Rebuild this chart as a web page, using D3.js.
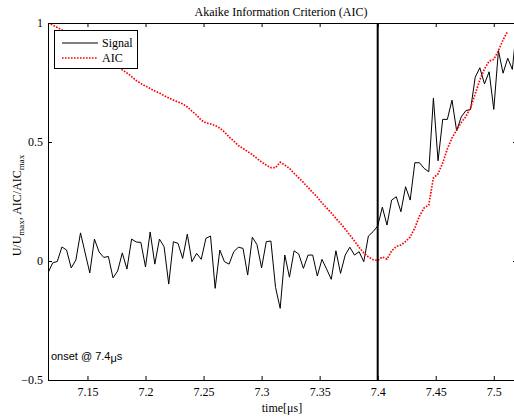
<!DOCTYPE html>
<html>
<head>
<meta charset="utf-8">
<script src="https://cdn.jsdelivr.net/npm/d3@7"></script>
<style>
  body { margin: 0; background: #fff; }
  svg { display: block; }
  .serif { font-family: "Liberation Serif", "Times New Roman", serif; }
</style>
</head>
<body>
<div id="chart"></div>
<script>
// sampling of the trace (4 ns steps from 7.116 us)
var t0 = 7.116, dt = 0.004;

// normalised signal U/Umax, one value per sample
var signal = [
  -0.050, -0.008, -0.002, 0.059, 0.046, -0.029, 0.004, 0.118, 0.034, -0.050,
  0.092, 0.038, 0.015, 0.019, -0.071, -0.042, 0.034, -0.034, 0.092, 0.080,
  0.078, -0.025, 0.122, -0.013, 0.092, 0.060, -0.097, 0.081, 0.074, 0.011,
  0.113, -0.003, 0.032, 0.007, 0.095, 0.105, -0.115, 0.046, -0.003, -0.013,
  0.039, 0.058, 0.053, -0.059, 0.100, 0.069, -0.029, 0.081, 0.084, -0.111,
  -0.199, 0.025, -0.068, 0.043, 0.029, -0.031, 0.025, 0.025, -0.063, 0.007,
  -0.034, -0.077, 0.043, -0.052, 0.025, 0.058, 0.025, 0.039, -0.003, 0.105,
  0.123, 0.147, 0.226, 0.151, 0.256, 0.270, 0.207, 0.312, 0.256, 0.413,
  0.413, 0.389, 0.375, 0.684, 0.421, 0.595, 0.595, 0.676, 0.547, 0.606,
  0.632, 0.637, 0.772, 0.812, 0.744, 0.795, 0.637, 0.884, 0.789, 0.852,
  0.805, 1.000
];

// normalised AIC/AICmax
var aic = [
  1.000, 0.992, 0.981, 0.971, 0.958, 0.945, 0.933, 0.920, 0.908, 0.893,
  0.878, 0.866, 0.853, 0.840, 0.828, 0.815, 0.803, 0.790, 0.775, 0.758,
  0.746, 0.735, 0.725, 0.714, 0.706, 0.695, 0.685, 0.676, 0.668, 0.660,
  0.647, 0.630, 0.613, 0.592, 0.580, 0.576, 0.569, 0.559, 0.542, 0.521,
  0.504, 0.485, 0.473, 0.460, 0.447, 0.431, 0.416, 0.403, 0.392, 0.392,
  0.415, 0.403, 0.389, 0.368, 0.349, 0.330, 0.309, 0.288, 0.268, 0.244,
  0.223, 0.202, 0.179, 0.158, 0.134, 0.109, 0.084, 0.057, 0.034, 0.017,
  0.006, 0.002, 0.017, 0.008, 0.042, 0.061, 0.067, 0.082, 0.101, 0.139,
  0.189, 0.223, 0.235, 0.349, 0.366, 0.412, 0.471, 0.517, 0.550, 0.582,
  0.607, 0.645, 0.702, 0.761, 0.807, 0.840, 0.847, 0.884, 0.929, 0.966
];

var onset = 7.4;
var xTicks = [7.15, 7.2, 7.25, 7.3, 7.35, 7.4, 7.45, 7.5];
var yTicks = [-0.5, 0, 0.5, 1];
var legendNames = ["Signal", "AIC"];

var W = 514, H = 418;
var m = { left: 48, top: 23, right: 517, bottom: 380 };

var x = d3.scaleLinear().domain([7.116, 7.52]).range([m.left, m.right]);
var y = d3.scaleLinear().domain([-0.5, 1]).range([m.bottom, m.top]);

var svg = d3.select("#chart").append("svg")
    .attr("width", W)
    .attr("height", H);

svg.append("defs").append("clipPath")
    .attr("id", "clip")
    .append("rect")
    .attr("x", m.left).attr("y", m.top)
    .attr("width", m.right - m.left).attr("height", m.bottom - m.top);

var sigPts = signal.map(function (v, i) { return [t0 + i * dt, v]; });
var aicPts = aic.map(function (v, i) { return [t0 + i * dt, v]; });

var line = d3.line()
    .x(function (d) { return x(d[0]); })
    .y(function (d) { return y(d[1]); });

var plot = svg.append("g").attr("clip-path", "url(#clip)");

plot.append("path")
    .datum(sigPts)
    .attr("d", line)
    .attr("fill", "none")
    .attr("stroke", "#000")
    .attr("stroke-width", 1);

plot.append("path")
    .datum(aicPts)
    .attr("d", line)
    .attr("fill", "none")
    .attr("stroke", "#ff0000")
    .attr("stroke-width", 1.7)
    .attr("stroke-dasharray", "1.6,1.4");

// onset marker
plot.append("line")
    .attr("x1", x(onset)).attr("x2", x(onset))
    .attr("y1", m.top).attr("y2", m.bottom)
    .attr("stroke", "#000")
    .attr("stroke-width", 2);

// axes, ticks pointing inwards like matlab
var xb = svg.append("g")
    .attr("class", "serif")
    .attr("transform", "translate(0," + m.bottom + ")")
    .call(d3.axisBottom(x).tickValues(xTicks).tickSize(-4).tickPadding(7).tickFormat(d3.format("")));
var xt = svg.append("g")
    .attr("transform", "translate(0," + m.top + ")")
    .call(d3.axisTop(x).tickValues(xTicks).tickSize(-4).tickFormat(""));
var yl = svg.append("g")
    .attr("class", "serif")
    .attr("transform", "translate(" + m.left + ",0)")
    .call(d3.axisLeft(y).tickValues(yTicks).tickSize(-4).tickPadding(5).tickFormat(d3.format("")));
var yr = svg.append("g")
    .attr("transform", "translate(" + m.right + ",0)")
    .call(d3.axisRight(y).tickValues(yTicks).tickSize(-4).tickFormat(""));

[xb, xt, yl, yr].forEach(function (a) {
    a.select(".domain").attr("stroke", "#000").attr("stroke-width", 1);
    a.selectAll(".tick line").attr("stroke", "#000");
    a.selectAll("text")
        .style("font-family", "'Liberation Serif', 'Times New Roman', serif")
        .style("font-size", "12px")
        .attr("fill", "#000");
});

// title
svg.append("text")
    .attr("class", "serif")
    .attr("x", 281).attr("y", 16)
    .attr("text-anchor", "middle")
    .style("font-size", "12px")
    .text("Akaike Information Criterion (AIC)");

// x label
var xl = svg.append("text")
    .attr("class", "serif")
    .attr("x", 282).attr("y", 412)
    .attr("text-anchor", "middle")
    .style("font-size", "12px");
xl.append("tspan").text("time[");
xl.append("tspan").text("\u03bc");
xl.append("tspan").text("s]");

// y label with subscripts
var ylab = svg.append("text")
    .attr("class", "serif")
    .attr("transform", "translate(21," + ((m.top + m.bottom) / 2 + 4) + ") rotate(-90)")
    .attr("text-anchor", "middle")
    .style("font-size", "12px");
ylab.append("tspan").text("U/U");
ylab.append("tspan").attr("dy", 3).style("font-size", "9px").text("max");
ylab.append("tspan").attr("dy", -3).text(", AIC/AIC");
ylab.append("tspan").attr("dy", 3).style("font-size", "9px").text("max");

// legend
var lg = svg.append("g");
lg.append("rect")
    .attr("x", 54.5).attr("y", 30.5)
    .attr("width", 83).attr("height", 38)
    .attr("fill", "#fff")
    .attr("stroke", "#000");
legendNames.forEach(function (name, i) {
    var ly = 43 + i * 15;
    lg.append("line")
        .attr("x1", 62).attr("x2", 98)
        .attr("y1", ly).attr("y2", ly)
        .attr("stroke", i === 0 ? "#000" : "#ff0000")
        .attr("stroke-width", i === 0 ? 1 : 1.7)
        .attr("stroke-dasharray", i === 0 ? null : "1.6,1.4");
    lg.append("text")
        .attr("class", "serif")
        .attr("x", 102).attr("y", ly + 4)
        .style("font-size", "12px")
        .text(name);
});

// onset annotation
var on = svg.append("text")
    .attr("x", 51).attr("y", 360)
    .style("font-family", "'Liberation Sans', Arial, sans-serif")
    .style("font-size", "11px");
on.append("tspan").text("onset @ " + onset + "");
on.append("tspan").attr("dy", 2).text("\u03bc");
on.append("tspan").attr("dy", -2).text("s");
</script>
</body>
</html>
